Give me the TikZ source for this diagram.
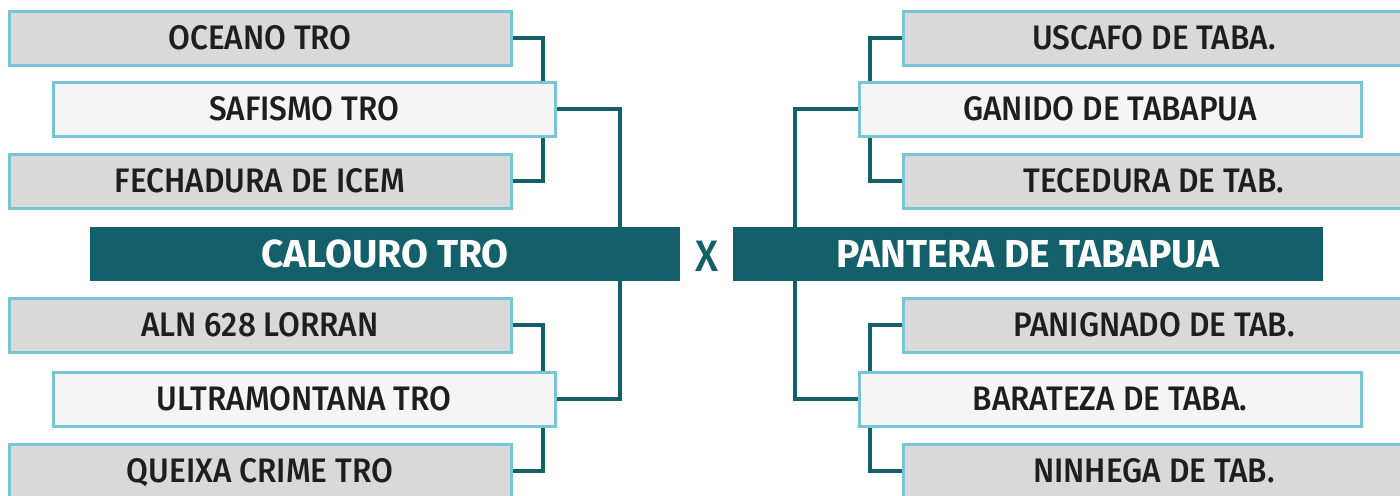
\documentclass[tikz,border=0pt]{standalone}
\usepackage{fontspec}
\setmainfont{Fira Sans}
\newfontfamily\teamfont{Fira Sans Medium}[FakeStretch=0.93]
\usetikzlibrary{backgrounds}
\definecolor{clubteal}{HTML}{13606B}
\definecolor{clubborder}{HTML}{78C5D3}
\definecolor{clubgray}{HTML}{D9D9D9}
\definecolor{clublight}{HTML}{F5F5F5}
\definecolor{clubtext}{HTML}{1E1E1E}

\begin{document}
\begin{tikzpicture}[x=0.5pt,y=-0.5pt,
  team/.style={draw=clubborder,line width=1.5pt,fill=clubgray,minimum width=251pt,minimum height=27pt,
    inner sep=0pt,text=clubtext,text height=11.2pt,text depth=0pt,font=\fontsize{17}{19}\teamfont},
  teamlight/.style={team,fill=clublight},
  final/.style={fill=clubteal,minimum width=295pt,minimum height=27pt,inner sep=0pt,
    text=white,text height=13.5pt,text depth=0pt,font=\fontsize{19.5}{22}\selectfont\bfseries},
  link/.style={draw=clubteal,line width=2.2pt}]
\useasboundingbox (0,0) rectangle (1400,495);
\clip (0,0) rectangle (1400,495);
% left bracket
\node[team] (oceano) at (260,38) {OCEANO TRO};
\node[teamlight] (safismo) at (304,109) {SAFISMO TRO};
\node[team] (fechadura) at (260,181) {FECHADURA DE ICEM};
\node[final] (calouro) at (385,254) {CALOURO TRO};
\node[team] (aln) at (260,325) {ALN 628 LORRAN};
\node[teamlight] (ultra) at (304,399) {ULTRAMONTANA TRO};
\node[team] (queixa) at (260,471) {QUEIXA CRIME TRO};
% right bracket
\node[team] (uscafo) at (1154,38) {USCAFO DE TABA.};
\node[teamlight] (ganido) at (1110,109) {GANIDO DE TABAPUA};
\node[team] (tecedura) at (1154,181) {TECEDURA DE TAB.};
\node[final] (pantera) at (1028,254) {PANTERA DE TABAPUA};
\node[team] (panignado) at (1154,325) {PANIGNADO DE TAB.};
\node[teamlight] (barateza) at (1110,399) {BARATEZA DE TABA.};
\node[team] (ninhega) at (1154,471) {NINHEGA DE TAB.};
\node[text=clubteal,inner sep=0pt,text height=15pt,text depth=0pt,font=\fontsize{22}{24}\teamfont] (versus) at (707,256) {X};
% connectors
\coordinate (lsplit) at (543,0);
\coordinate (ljoin) at (620,0);
\coordinate (rsplit) at (870,0);
\coordinate (rjoin) at (795,0);
\begin{scope}[on background layer]
\draw[link] (oceano.east) -| (lsplit |- fechadura.east) -- (fechadura.east);
\draw[link] (aln.east) -| (lsplit |- queixa.east) -- (queixa.east);
\draw[link] (safismo.east) -| (ljoin |- calouro.north);
\draw[link] (ultra.east) -| (ljoin |- calouro.south);
\draw[link] (uscafo.west) -| (rsplit |- tecedura.west) -- (tecedura.west);
\draw[link] (panignado.west) -| (rsplit |- ninhega.west) -- (ninhega.west);
\draw[link] (ganido.west) -| (rjoin |- pantera.north);
\draw[link] (barateza.west) -| (rjoin |- pantera.south);
\end{scope}
\end{tikzpicture}
\end{document}
